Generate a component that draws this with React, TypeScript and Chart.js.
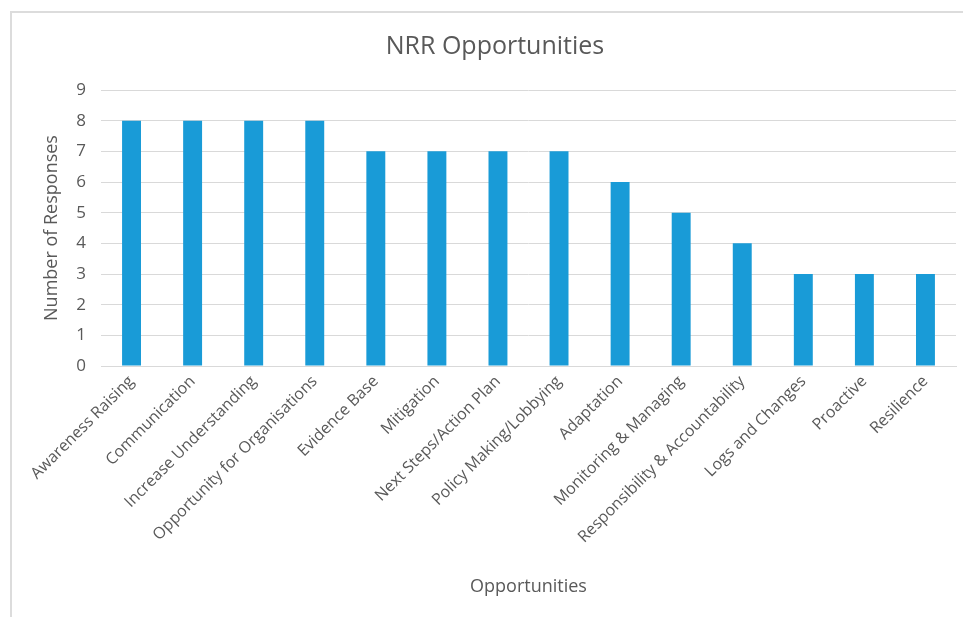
import React, { useEffect, useRef } from "react";
import { Chart, registerables } from "chart.js";

Chart.register(...registerables);

const categories = [
  "Awareness Raising",
  "Communication",
  "Increase Understanding",
  "Opportunity for Organisations",
  "Evidence Base",
  "Mitigation",
  "Next Steps/Action Plan",
  "Policy Making/Lobbying",
  "Adaptation",
  "Monitoring & Managing",
  "Responsibility & Accountability",
  "Logs and Changes",
  "Proactive",
  "Resilience",
];
const responses = [8, 8, 8, 8, 7, 7, 7, 7, 6, 5, 4, 3, 3, 3];
const chartTitle = "NRR Opportunities";
const xTitle = "Opportunities";
const yTitle = "Number of Responses";

const TEXT = "#595959";
const FONT = "'Open Sans', 'Noto Sans', sans-serif";

export default function App() {
  const ref = useRef<HTMLCanvasElement | null>(null);
  useEffect(() => {
    if (!ref.current) return;
    const chart = new Chart(ref.current, {
      type: "bar",
      data: {
        labels: categories,
        datasets: [
          {
            data: responses,
            backgroundColor: "#199bd7",
            barPercentage: 0.62,
            categoryPercentage: 0.5,
          },
        ],
      },
      options: {
        responsive: false,
        animation: false,
        layout: { padding: { left: 34, right: 7, top: 0, bottom: 0 } },
        plugins: {
          legend: { display: false },
          tooltip: { enabled: false },
          title: {
            display: true,
            text: chartTitle,
            color: TEXT,
            font: { family: FONT, size: 25, weight: "normal" },
            padding: { top: 32, bottom: 28 },
          },
        },
        scales: {
          x: {
            grid: { display: false, drawTicks: false },
            border: { color: "#d9d9d9", width: 1 },
            ticks: {
              color: TEXT,
              font: { family: FONT, size: 16 },
              minRotation: 45,
              maxRotation: 45,
              autoSkip: false,
              padding: 6,
            },
            title: {
              display: true,
              text: xTitle,
              color: TEXT,
              font: { family: FONT, size: 18 },
              padding: { top: 0, bottom: 19 },
            },
            afterFit: (s: any) => {
              s.height = 251;
            },
          },
          y: {
            min: 0,
            max: 9,
            grid: { color: "#d9d9d9", drawTicks: false },
            border: { display: false },
            ticks: {
              stepSize: 1,
              color: TEXT,
              font: { family: FONT, size: 17 },
              padding: 15,
            },
            title: {
              display: true,
              text: yTitle,
              color: TEXT,
              font: { family: FONT, size: 18 },
              padding: { top: 7, bottom: 0 },
            },
            afterFit: (s: any) => {
              s.width = 67;
            },
          },
        },
      },
    });
    return () => chart.destroy();
  }, []);
  return (
    <div
      style={{
        position: "fixed",
        left: 0,
        top: 0,
        width: 963,
        height: 617,
        background: "#fff",
        overflow: "hidden",
      }}
    >
      <div
        style={{
          position: "absolute",
          left: 10,
          top: 11,
          width: 970,
          height: 620,
          border: "2px solid #dcdcdc",
          boxSizing: "border-box",
        }}
      />
      <canvas
        ref={ref}
        width={963}
        height={617}
        style={{ position: "absolute", left: 0, top: 0, width: 963, height: 617 }}
      />
    </div>
  );
}
